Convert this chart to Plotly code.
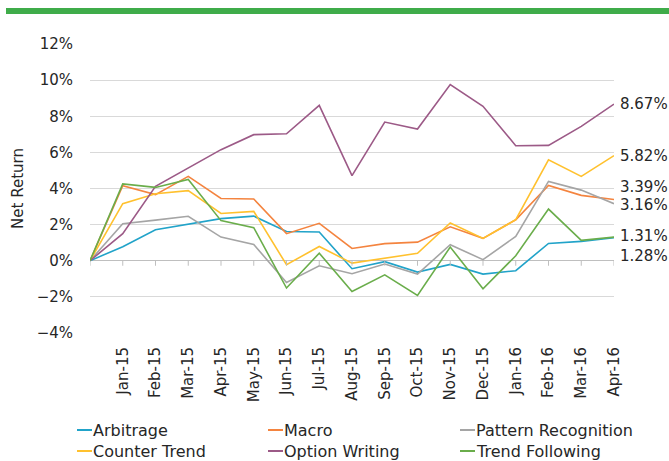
import plotly.graph_objects as go

months = ["", "Jan-15", "Feb-15", "Mar-15", "Apr-15", "May-15", "Jun-15", "Jul-15", "Aug-15",
          "Sep-15", "Oct-15", "Nov-15", "Dec-15", "Jan-16", "Feb-16", "Mar-16", "Apr-16"]

arbitrage = [0, 0.78, 1.72, 2.01, 2.33, 2.47, 1.62, 1.59, -0.44, -0.05, -0.63, -0.20, -0.74, -0.55, 0.96, 1.07, 1.28]
macro = [0, 4.15, 3.66, 4.67, 3.45, 3.42, 1.50, 2.07, 0.68, 0.95, 1.03, 1.88, 1.24, 2.27, 4.17, 3.62, 3.39]
pattern = [0, 2.05, 2.25, 2.46, 1.31, 0.90, -1.20, -0.28, -0.72, -0.18, -0.74, 0.89, 0.06, 1.35, 4.39, 3.91, 3.16]
counter = [0, 3.16, 3.71, 3.88, 2.62, 2.73, -0.22, 0.79, -0.13, 0.15, 0.41, 2.09, 1.24, 2.27, 5.59, 4.67, 5.82]
option = [0, 1.50, 4.12, 5.13, 6.15, 6.98, 7.03, 8.60, 4.71, 7.68, 7.29, 9.75, 8.55, 6.37, 6.39, 7.44, 8.67]
trend = [0, 4.25, 4.06, 4.50, 2.22, 1.83, -1.51, 0.42, -1.70, -0.78, -1.92, 0.76, -1.55, 0.28, 2.86, 1.13, 1.31]

series_names = ["Arbitrage", "Macro", "Pattern Recognition",
                "Counter Trend", "Option Writing", "Trend Following"]
series_values = [arbitrage, macro, pattern, counter, option, trend]
series_colors = ["#21a3c9", "#f4843f", "#a5a5a5", "#ffc12e", "#9c5a87", "#6aad4b"]

FONT = "DejaVu Sans"
W, H = 669, 461
ML, MR, MT, MB = 90, 55, 44, 128
PW, PH = W - ML - MR, H - MT - MB


def px_to_paper(px, py):
    return (px - ML) / PW, (H - MB - py) / PH


x = list(range(len(months)))

fig = go.Figure()
for name, vals, col in zip(series_names, series_values, series_colors):
    fig.add_trace(go.Scatter(x=x, y=vals, name=name, mode="lines",
                             line=dict(color=col, width=1.6), showlegend=False))

# end-of-line value labels (pixel offsets to separate close pairs)
label_shift = [-18, 13, -1, 0, 0, 1]
for vals, shift in zip(series_values, label_shift):
    fig.add_annotation(x=x[-1], y=vals[-1], text=f"{vals[-1]:.2f}%", showarrow=False,
                       xanchor="left", yanchor="middle", xshift=4, yshift=shift,
                       font=dict(family=FONT, size=15, color="#262626"))

shapes = []
# top green banner
bx0, by0 = px_to_paper(6, 8)
bx1, by1 = px_to_paper(669, 14)
shapes.append(dict(type="rect", xref="paper", yref="paper", x0=bx0, x1=bx1,
                   y0=by1, y1=by0, fillcolor="#3fac4a", line=dict(width=0), layer="above"))
# tick marks on the zero line
for xi in x:
    shapes.append(dict(type="line", xref="x", yref="y", ysizemode="pixel", yanchor=0,
                       x0=xi, x1=xi, y0=0, y1=-5, line=dict(color="#bfbfbf", width=1)))
# bracket leaders for overlapping end labels
shapes.append(dict(type="path", xref="x", yref="y", xsizemode="pixel", ysizemode="pixel",
                   xanchor=16, yanchor=pattern[-1],
                   path="M 6,14 L 3,14 L 3,0 L 6,0", line=dict(color="#bfbfbf", width=1)))
shapes.append(dict(type="path", xref="x", yref="y", xsizemode="pixel", ysizemode="pixel",
                   xanchor=16, yanchor=trend[-1],
                   path="M 6,0 L 3,0 L 3,-11 L 6,-11", line=dict(color="#bfbfbf", width=1)))

# custom legend: 3 columns x 2 rows, short line keys
col_px = [77, 268, 460]
row_px = [430, 451]
for i, (name, col) in enumerate(zip(series_names, series_colors)):
    cx, ry = col_px[i % 3], row_px[i // 3]
    lx0, ly = px_to_paper(cx, ry)
    lx1, _ = px_to_paper(cx + 15, ry)
    shapes.append(dict(type="line", xref="paper", yref="paper", x0=lx0, x1=lx1,
                       y0=ly, y1=ly, line=dict(color=col, width=2)))
    fig.add_annotation(xref="paper", yref="paper", x=lx1, y=ly, text=name,
                       showarrow=False, xanchor="left", yanchor="middle", xshift=-1,
                       font=dict(family=FONT, size=16, color="#262626"))

fig.update_layout(
    width=W, height=H,
    margin=dict(l=ML, r=MR, t=MT, b=MB),
    paper_bgcolor="white", plot_bgcolor="white",
    font=dict(family=FONT, size=14, color="#404040"),
    showlegend=False,
    shapes=shapes,
    xaxis=dict(range=[0, 16], tickvals=x[1:], ticktext=months[1:], tickangle=-90,
               showgrid=False, zeroline=False, showline=False, ticks="",
               ticklabelstandoff=10, automargin=False,
               tickfont=dict(family=FONT, size=15, color="#262626")),
    yaxis=dict(range=[-4, 12], dtick=2, ticksuffix="%", showgrid=True,
               gridcolor="#d9d9d9", gridwidth=1, zeroline=True, zerolinecolor="#bfbfbf",
               zerolinewidth=1, showline=False, ticks="", automargin=False,
               ticklabelstandoff=16,
               tickfont=dict(family=FONT, size=15, color="#262626"),
               title=dict(text="Net Return", font=dict(family=FONT, size=15, color="#262626"),
                          standoff=9)),
)

fig.write_html("out.html", config={"displayModeBar": False},
               post_script="document.body.style.margin='0';")
